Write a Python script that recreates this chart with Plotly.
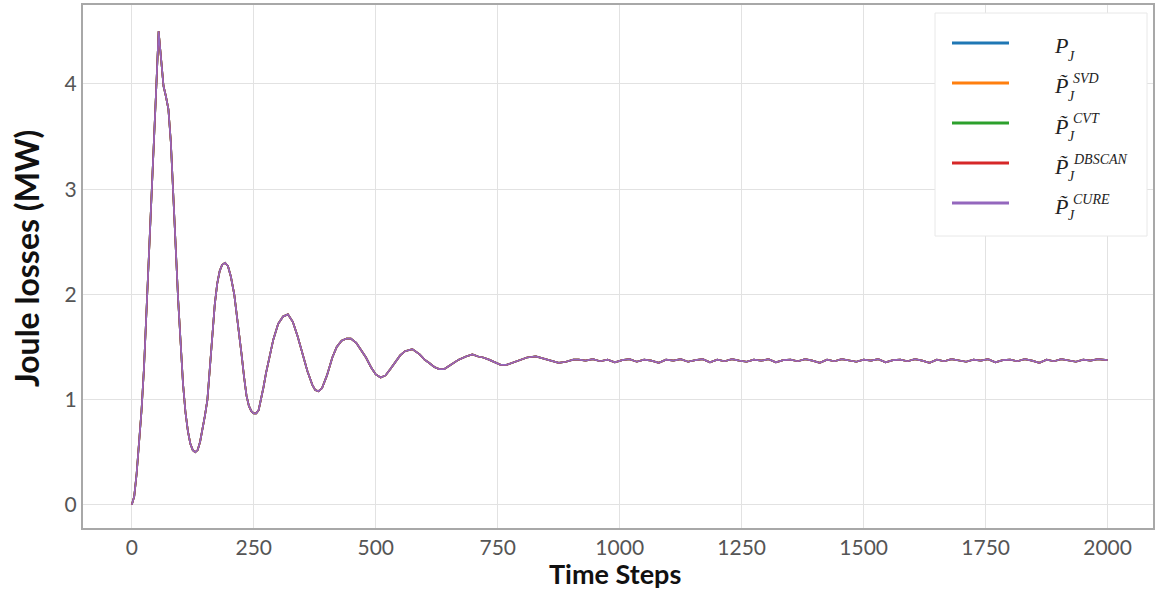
import plotly.graph_objects as go

# ---------------- data ----------------
steps = [0, 5, 10, 15, 20, 25, 30, 35, 40, 45, 50, 55, 60, 65, 70, 75, 80, 85, 90, 95,
         100, 105, 110, 115, 120, 125, 130, 135, 140, 145, 150, 155, 160, 165, 170, 175,
         180, 185, 191, 197, 203, 210, 215, 220, 225, 230, 235, 240, 245, 250, 255, 260,
         265, 270, 275, 281, 290, 300, 310, 320, 330, 340, 350, 360, 370, 376, 383, 390,
         400, 411, 420, 430, 440, 449, 460, 470, 480, 490, 500, 510, 520, 530, 541, 550,
         560, 575, 590, 600, 609, 620, 630, 640, 650, 660, 670, 685, 698, 710, 720, 732,
         745, 756, 768, 780, 794, 810, 828, 845, 860, 875, 890, 905, 916,
         930, 945, 960, 975, 990, 1005, 1020, 1035, 1050, 1065, 1080, 1095, 1110, 1125,
         1140, 1155, 1170, 1185, 1200, 1215, 1230, 1245, 1260, 1275, 1290, 1305, 1320,
         1335, 1350, 1365, 1380, 1395, 1410, 1425, 1440, 1455, 1470, 1485, 1500, 1515,
         1530, 1545, 1560, 1575, 1590, 1605, 1620, 1635, 1650, 1665, 1680, 1695, 1710,
         1725, 1740, 1755, 1770, 1785, 1800, 1815, 1830, 1845, 1860, 1875, 1890, 1905,
         1920, 1935, 1950, 1965, 1980, 2000]

p_j = [0.00, 0.08, 0.30, 0.60, 0.90, 1.30, 1.80, 2.30, 2.80, 3.40, 3.95, 4.50, 4.25, 3.98,
       3.88, 3.76, 3.45, 2.90, 2.40, 1.95, 1.55, 1.15, 0.88, 0.70, 0.58, 0.52, 0.50, 0.52,
       0.60, 0.72, 0.85, 1.00, 1.32, 1.62, 1.90, 2.10, 2.22, 2.28, 2.30, 2.27, 2.17, 2.00,
       1.82, 1.63, 1.43, 1.22, 1.04, 0.94, 0.89, 0.87, 0.87, 0.90, 1.00, 1.12, 1.25, 1.38,
       1.57, 1.72, 1.79, 1.81, 1.74, 1.60, 1.44, 1.27, 1.14, 1.09, 1.08, 1.11, 1.23, 1.40,
       1.50, 1.56, 1.58, 1.58, 1.54, 1.47, 1.40, 1.31, 1.24, 1.21, 1.23, 1.29, 1.36, 1.42,
       1.46, 1.48, 1.43, 1.38, 1.35, 1.31, 1.29, 1.29, 1.32, 1.35, 1.38, 1.41, 1.43, 1.41,
       1.40, 1.38, 1.35, 1.33, 1.33, 1.35, 1.38, 1.40, 1.41, 1.39, 1.37, 1.35, 1.36, 1.38,
       1.38,
       1.37, 1.385, 1.365, 1.38, 1.355, 1.375, 1.385, 1.36, 1.38, 1.37, 1.35, 1.38, 1.37,
       1.385, 1.36, 1.375, 1.385, 1.355, 1.38, 1.365, 1.385, 1.37, 1.36, 1.38, 1.37, 1.385,
       1.355, 1.375, 1.38, 1.365, 1.385, 1.37, 1.35, 1.38, 1.365, 1.385, 1.37, 1.36, 1.38,
       1.37, 1.385, 1.355, 1.375, 1.38, 1.365, 1.385, 1.37, 1.35, 1.38, 1.365, 1.385, 1.37,
       1.36, 1.38, 1.37, 1.385, 1.355, 1.375, 1.38, 1.365, 1.385, 1.37, 1.35, 1.38, 1.365,
       1.385, 1.37, 1.36, 1.38, 1.37, 1.385, 1.375]

# the approximations overlap the reference curve in the picture
p_svd = list(p_j)
p_cvt = list(p_j)
p_dbscan = list(p_j)
p_cure = list(p_j)

series_names = ["P_J", "P_J^SVD", "P_J^CVT", "P_J^DBSCAN", "P_J^CURE"]
series_values = [p_j, p_svd, p_cvt, p_dbscan, p_cure]
legend_sup = ["", "SVD", "CVT", "DBSCAN", "CURE"]

x_ticks = [0, 250, 500, 750, 1000, 1250, 1500, 1750, 2000]
y_ticks = [0, 1, 2, 3, 4]

colors = ["#1f77b4", "#ff7f0e", "#2ca02c", "#d62728", "#9467bd"]

# ---------------- layout geometry ----------------
W, H = 1156, 594
ML, MR, MT, MB = 83, 3, 5, 66
PW, PH = W - ML - MR, H - MT - MB


def px_x(px):
    return (px - ML) / PW


def px_y(py):
    return (H - MB - py) / PH


fig = go.Figure()
for name, vals, col in zip(series_names, series_values, colors):
    fig.add_trace(go.Scatter(x=steps, y=vals, mode="lines", name=name,
                             line=dict(color=col, width=1.7), showlegend=False))

sans = "Lato, 'Open Sans', sans-serif"
serif = "'Liberation Serif', 'DejaVu Serif', serif"

fig.update_layout(
    width=W, height=H,
    margin=dict(l=ML, r=MR, t=MT, b=MB, autoexpand=False),
    paper_bgcolor="white", plot_bgcolor="white",
    font=dict(family=sans, color="#555555", size=21),
    xaxis=dict(range=[-100, 2093], tickvals=x_ticks, showgrid=True, automargin=False,
               gridcolor="#e2e2e2", gridwidth=1, zeroline=False,
               showline=True, linecolor="#a8a8a8", linewidth=2, mirror=True,
               ticks="", tickfont=dict(size=21, color="#555555")),
    yaxis=dict(range=[-0.22, 4.75], tickvals=y_ticks, showgrid=True, automargin=False,
               gridcolor="#e2e2e2", gridwidth=1, zeroline=False,
               showline=True, linecolor="#a8a8a8", linewidth=2, mirror=True,
               ticks="", tickfont=dict(size=21, color="#555555")),
)

# axis titles
fig.add_annotation(xref="paper", yref="paper", x=px_x(615), y=px_y(573),
                   xanchor="center", yanchor="middle", showarrow=False,
                   text="<b>Time Steps</b>",
                   font=dict(family=sans, size=27, color="#111111"))
fig.add_annotation(xref="paper", yref="paper", x=px_x(26), y=px_y(259),
                   xanchor="center", yanchor="middle", showarrow=False, textangle=-90,
                   text="<b>Joule losses (MW)</b>",
                   font=dict(family=sans, size=32, color="#111111"))

# ---------------- legend (drawn in the upper-right corner) ----------------
fig.add_shape(type="rect", xref="paper", yref="paper",
              x0=px_x(935), x1=px_x(1147), y0=px_y(236), y1=px_y(13),
              fillcolor="white", line=dict(color="#e8e8e8", width=1), layer="above")

row_y = [43, 83, 123, 163, 203]
for i, (col, sup) in enumerate(zip(colors, legend_sup)):
    ry = row_y[i]
    fig.add_shape(type="line", xref="paper", yref="paper",
                  x0=px_x(952), x1=px_x(1009), y0=px_y(ry), y1=px_y(ry),
                  line=dict(color=col, width=3), layer="above")
    main = "<i>P</i>" if sup == "" else "<i>P\u0303</i>"
    fig.add_annotation(xref="paper", yref="paper", x=px_x(1052), y=px_y(ry + 3),
                       xanchor="left", yanchor="middle", showarrow=False,
                       text=main, font=dict(family=serif, size=22, color="#222222"))
    fig.add_annotation(xref="paper", yref="paper", x=px_x(1066), y=px_y(ry + 13),
                       xanchor="left", yanchor="middle", showarrow=False,
                       text="<i>J</i>", font=dict(family=serif, size=14, color="#222222"))
    if sup:
        fig.add_annotation(xref="paper", yref="paper", x=px_x(1071), y=px_y(ry - 4),
                           xanchor="left", yanchor="middle", showarrow=False,
                           text="<i>" + sup + "</i>",
                           font=dict(family=serif, size=14, color="#222222"))

fig.write_html("out.html",
               config={"displayModeBar": False},
               post_script="document.body.style.margin='0';"
                           "document.body.style.overflow='hidden';")
